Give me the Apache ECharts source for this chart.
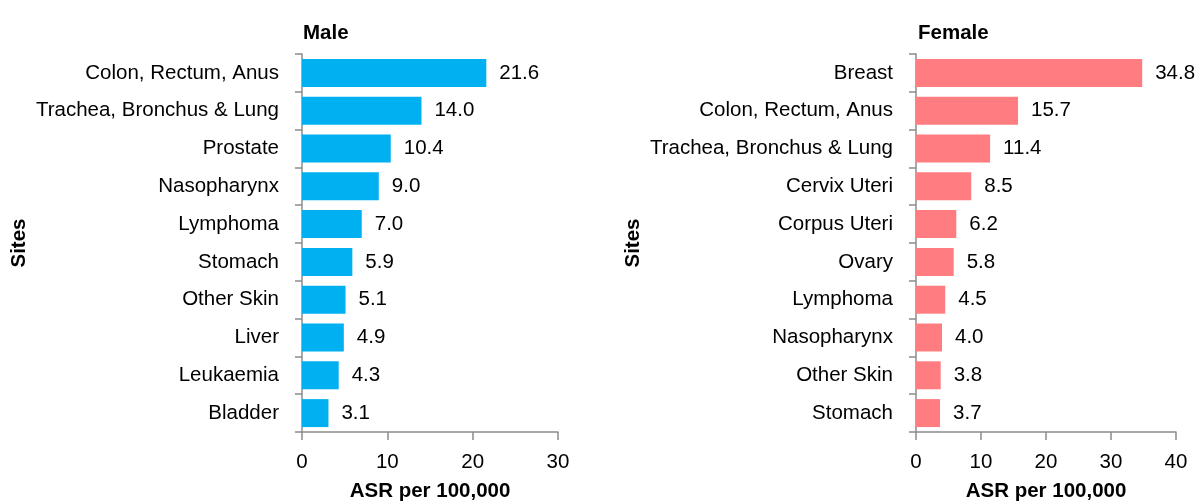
<!DOCTYPE html>
<html>
<head>
<meta charset="utf-8">
<script src="https://cdn.jsdelivr.net/npm/echarts@6/dist/echarts.min.js"></script>
<style>
  html, body { margin: 0; padding: 0; background: #fff; }
  #chart { width: 1199px; height: 502px; }
</style>
</head>
<body>
<div id="chart"></div>
<script>
// data
const maleSites = ["Colon, Rectum, Anus", "Trachea, Bronchus & Lung", "Prostate", "Nasopharynx", "Lymphoma",
  "Stomach", "Other Skin", "Liver", "Leukaemia", "Bladder"];
const maleValues = [21.6, 14.0, 10.4, 9.0, 7.0, 5.9, 5.1, 4.9, 4.3, 3.1];
const femaleSites = ["Breast", "Colon, Rectum, Anus", "Trachea, Bronchus & Lung", "Cervix Uteri", "Corpus Uteri",
  "Ovary", "Lymphoma", "Nasopharynx", "Other Skin", "Stomach"];
const femaleValues = [34.8, 15.7, 11.4, 8.5, 6.2, 5.8, 4.5, 4.0, 3.8, 3.7];
const maleTicks = [0, 10, 20, 30];
const femaleTicks = [0, 10, 20, 30, 40];

const FONT = "Liberation Sans, Arial, sans-serif";
const FS = 20.5;
const axisGray = "#8c8c8c";

let chart = echarts.init(document.getElementById("chart"));

function valueAxis(grid, ticks) {
  return {
    type: "value",
    gridIndex: grid,
    min: ticks[0],
    max: ticks[ticks.length - 1],
    interval: ticks[1] - ticks[0],
    name: "ASR per 100,000",
    nameLocation: "middle",
    nameGap: 49,
    nameTextStyle: { fontFamily: FONT, fontSize: FS, fontWeight: "bold", color: "#000" },
    axisLine: { show: true, lineStyle: { color: axisGray, width: 1.5 } },
    axisTick: { show: true, length: 8, lineStyle: { color: axisGray, width: 1.5 } },
    axisLabel: { fontFamily: FONT, fontSize: FS, color: "#000", margin: 20 },
    splitLine: { show: false }
  };
}

function catAxis(grid, sites, gap) {
  return {
    type: "category",
    gridIndex: grid,
    inverse: true,
    data: sites,
    name: "Sites",
    nameLocation: "middle",
    nameGap: gap,
    nameRotate: 90,
    nameTextStyle: { fontFamily: FONT, fontSize: FS, fontWeight: "bold", color: "#000" },
    axisLine: { show: true, lineStyle: { color: axisGray, width: 1.5 } },
    axisTick: { show: true, length: 7, lineStyle: { color: axisGray, width: 1.5 } },
    axisLabel: { fontFamily: FONT, fontSize: FS, color: "#000", margin: 23 }
  };
}

function barSeries(idx, values, color) {
  return {
    type: "bar",
    xAxisIndex: idx,
    yAxisIndex: idx,
    data: values,
    barWidth: "74%",
    itemStyle: { color: color },
    label: {
      show: true,
      position: "right",
      distance: 13,
      fontFamily: FONT,
      fontSize: FS,
      color: "#000",
      formatter: p => p.value.toFixed(1)
    }
  };
}

let option = {
  animation: false,
  backgroundColor: "#fff",
  title: [
    { text: "Male", left: 298, top: 18, textStyle: { fontFamily: FONT, fontSize: FS, fontWeight: "bold", color: "#000" } },
    { text: "Female", left: 913, top: 18, textStyle: { fontFamily: FONT, fontSize: FS, fontWeight: "bold", color: "#000" } }
  ],
  grid: [
    { left: 302, top: 54, width: 256, height: 378, outerBoundsMode: "none", containLabel: false },
    { left: 916, top: 54, width: 260, height: 378, outerBoundsMode: "none", containLabel: false }
  ],
  xAxis: [valueAxis(0, maleTicks), valueAxis(1, femaleTicks)],
  yAxis: [catAxis(0, maleSites, 272), catAxis(1, femaleSites, 272)],
  series: [
    barSeries(0, maleValues, "#00B0F0"),
    barSeries(1, femaleValues, "#FF7C80")
  ]
};

chart.setOption(option);
</script>
</body>
</html>
